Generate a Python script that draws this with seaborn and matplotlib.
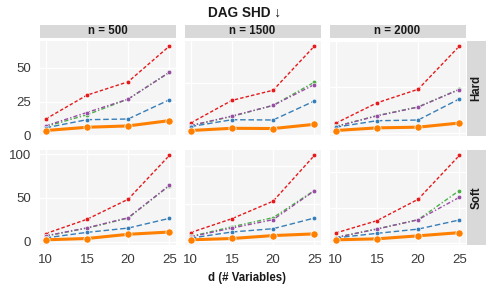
import numpy as np
import pandas as pd
import seaborn as sns
import matplotlib.pyplot as plt
from matplotlib.ticker import MultipleLocator

# x axis: number of variables
d_vals = [10, 15, 20, 25]
n_vals = [500, 1500, 2000]
settings = ["Hard", "Soft"]
methods = ["M1", "M2", "M3", "M4", "Ours"]

# DAG SHD per setting / n, one list per method
hard_500 = {
    "M1": [12.1, 29.7, 39.6, 65.9],
    "M2": [6.5, 15.2, 26.8, 46.6],
    "M3": [7.0, 16.9, 26.8, 46.6],
    "M4": [5.6, 11.6, 12.1, 26.3],
    "Ours": [3.6, 6.0, 7.0, 10.9],
}
hard_1500 = {
    "M1": [9.3, 26.5, 34.2, 67.7],
    "M2": [7.3, 14.3, 22.7, 40.3],
    "M3": [7.3, 14.6, 22.7, 38.5],
    "M4": [6.6, 11.8, 11.6, 26.0],
    "Ours": [3.6, 5.3, 5.1, 8.3],
}
hard_2000 = {
    "M1": [8.8, 26.5, 38.3, 75.7],
    "M2": [6.0, 15.4, 23.0, 38.3],
    "M3": [5.9, 15.2, 22.8, 38.1],
    "M4": [5.4, 11.0, 11.6, 29.9],
    "Ours": [2.5, 4.8, 5.4, 9.0],
}
soft_500 = {
    "M1": [9.3, 25.6, 48.5, 98.5],
    "M2": [6.5, 15.5, 27.0, 64.0],
    "M3": [6.7, 15.9, 27.4, 64.4],
    "M4": [4.4, 10.7, 15.6, 26.7],
    "Ours": [2.2, 3.7, 8.5, 11.1],
}
soft_1500 = {
    "M1": [9.3, 24.0, 42.6, 91.1],
    "M2": [5.2, 15.4, 25.1, 53.9],
    "M3": [4.8, 14.1, 23.0, 53.6],
    "M4": [3.4, 9.9, 13.4, 24.7],
    "Ours": [1.6, 3.0, 6.1, 7.9],
}
soft_2000 = {
    "M1": [11.2, 25.1, 49.3, 98.8],
    "M2": [6.1, 15.8, 26.2, 59.2],
    "M3": [6.1, 15.6, 26.2, 51.5],
    "M4": [5.7, 10.8, 15.6, 25.9],
    "Ours": [3.5, 4.6, 8.0, 11.6],
}

tables = {
    ("Hard", 500): hard_500, ("Hard", 1500): hard_1500, ("Hard", 2000): hard_2000,
    ("Soft", 500): soft_500, ("Soft", 1500): soft_1500, ("Soft", 2000): soft_2000,
}

rows = []
for (setting, n), tab in tables.items():
    for m, ys in tab.items():
        for d, y in zip(d_vals, ys):
            rows.append({"setting": setting, "n": n, "method": m, "d": d, "shd": y})
df = pd.DataFrame(rows)

colors = {"M1": "#e41a1c", "M2": "#4daf4a", "M3": "#984ea3", "M4": "#377eb8", "Ours": "#ff7f00"}
dashes = {"M1": (2.5, 1.5), "M2": (3, 1.5, 1, 1.5), "M3": (3, 1.5, 1, 1.5), "M4": (4, 2), "Ours": ""}
# grid spacing per panel (each panel has its own y scale)
ystep = {("Hard", 500): 25, ("Hard", 1500): 40, ("Hard", 2000): 40,
         ("Soft", 500): 50, ("Soft", 1500): 40, ("Soft", 2000): 40}

sns.set_style("white")
plt.rcParams["font.family"] = ["Liberation Sans", "DejaVu Sans"]

W, H = 494, 293
fig = plt.figure(figsize=(W / 100, H / 100), dpi=100)

lefts = [39.5, 184.5, 329.5]
tops = [40.7, 150.0]
aw, ah = 136, 95.3

for r, setting in enumerate(settings):
    for c, n in enumerate(n_vals):
        ax = fig.add_axes([lefts[c] / W, (H - tops[r] - ah) / H, aw / W, ah / H])
        ax.set_facecolor("#f5f5f5")
        sub = df[(df.setting == setting) & (df.n == n)]
        for m in methods:
            part = sub[sub.method == m]
            if m == "Ours":
                sns.lineplot(data=part, x="d", y="shd", color=colors[m], lw=2.2,
                             marker="o", markersize=5.2, markeredgecolor="white",
                             markeredgewidth=0.5, ax=ax, zorder=3)
            else:
                sns.lineplot(data=part, x="d", y="shd", color=colors[m], lw=1.0,
                             dashes=dashes[m], marker="o", markersize=3.3,
                             markeredgecolor="white", markeredgewidth=0.4, ax=ax)
        ax.margins(y=0.065)
        ax.yaxis.set_major_locator(MultipleLocator(ystep[(setting, n)]))
        ax.set_xticks(d_vals)
        ax.grid(True, color="white", lw=1.0)
        ax.set_axisbelow(True)
        for s in ax.spines.values():
            s.set_visible(False)
        ax.tick_params(length=0, labelsize=9.5, colors="#3a3a3a", pad=6)
        ax.set_xlabel("")
        ax.set_ylabel("")
        if c > 0:
            ax.set_yticklabels([])
        if r == 0:
            ax.set_xticklabels([])
            # column strip
            sax = fig.add_axes([lefts[c] / W, (H - 37.7) / H, aw / W, 12.7 / H])
            sax.set_facecolor("#d9d9d9")
            sax.set_xticks([]); sax.set_yticks([])
            for s in sax.spines.values():
                s.set_visible(False)
            sax.text(0.5, 0.5, f"n = {n}", ha="center", va="center",
                     fontsize=8.3, fontweight="bold", color="#1a1a1a")
        if c == 2:
            rax = fig.add_axes([466.7 / W, (H - tops[r] - ah) / H, 19 / W, ah / H])
            rax.set_facecolor("#d9d9d9")
            rax.set_xticks([]); rax.set_yticks([])
            for s in rax.spines.values():
                s.set_visible(False)
            rax.text(0.5, 0.5, setting, ha="center", va="center", rotation=90,
                     fontsize=8.3, fontweight="bold", color="#1a1a1a")

fig.text(0.495, 0.957, "DAG SHD \u2193", ha="center", va="center",
         fontsize=9.8, fontweight="bold", color="#1a1a1a")
fig.text(0.499, 0.051, "d (# Variables)", ha="center", va="center",
         fontsize=8.3, fontweight="bold", color="#1a1a1a")

fig.savefig("out.png", dpi=100)
